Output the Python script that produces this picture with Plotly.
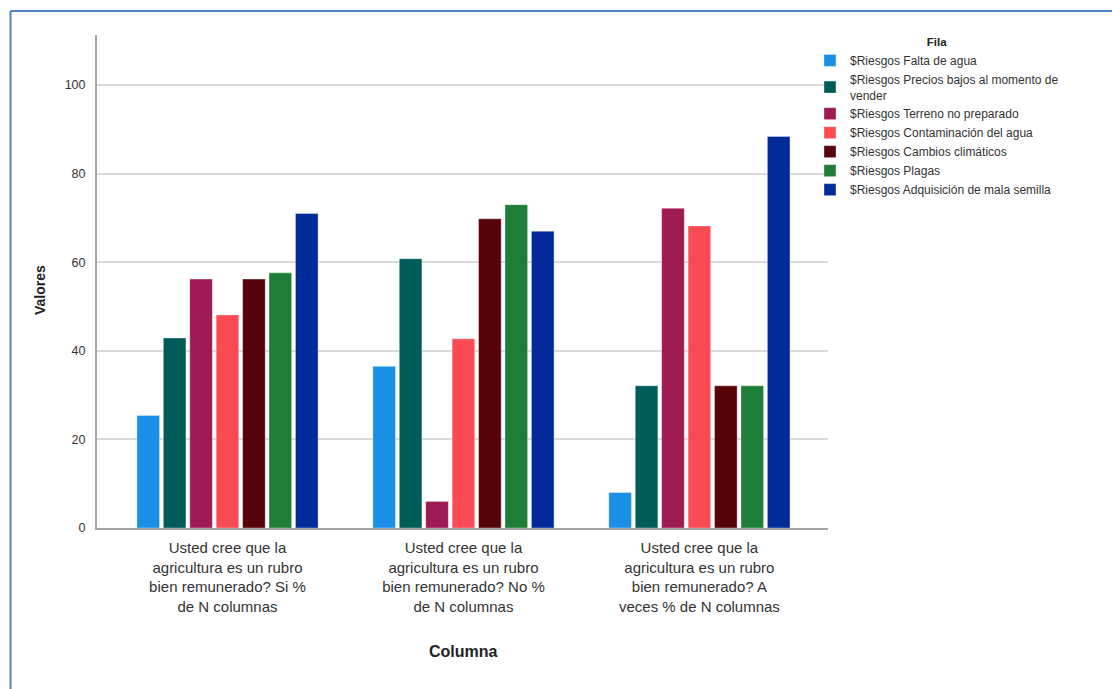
import plotly.graph_objects as go

# Response categories (x axis)
categorias = [
    "Usted cree que la<br>agricultura es un rubro<br>bien remunerado? Si %<br>de N columnas",
    "Usted cree que la<br>agricultura es un rubro<br>bien remunerado? No %<br>de N columnas",
    "Usted cree que la<br>agricultura es un rubro<br>bien remunerado? A<br>veces % de N columnas",
]

# Risk series names (legend)
riesgos = [
    "$Riesgos Falta de agua",
    "$Riesgos Precios bajos al momento de<br>vender",
    "$Riesgos Terreno no preparado",
    "$Riesgos Contaminación del agua",
    "$Riesgos Cambios climáticos",
    "$Riesgos Plagas",
    "$Riesgos Adquisición de mala semilla",
]

# Percentages per risk, one value per category
falta_agua = [25.4, 36.5, 8.0]
precios_bajos = [42.9, 60.8, 32.1]
terreno = [56.2, 6.0, 72.2]
contaminacion = [48.1, 42.7, 68.2]
cambios = [56.2, 69.8, 32.1]
plagas = [57.6, 73.0, 32.1]
mala_semilla = [71.0, 67.0, 88.4]

series = [falta_agua, precios_bajos, terreno, contaminacion, cambios, plagas, mala_semilla]

colores = ["#1a8fe6", "#005c58", "#9e1a52", "#fa4b55", "#570408", "#1e7d37", "#002b99"]

y_ticks = [0, 20, 40, 60, 80, 100]

FONT = "Arial, Liberation Sans, sans-serif"

fig = go.Figure()
for nombre, valores, color in zip(riesgos, series, colores):
    fig.add_trace(go.Bar(
        name=nombre,
        x=categorias,
        y=valores,
        marker=dict(color=color, line=dict(color="rgba(255,255,255,0.6)", width=0.6)),
    ))

W, H = 1112, 689
L, R, T, B = 97, 284, 35, 161
pw, ph = W - L - R, H - T - B


def px_x(px):
    return (px - L) / pw


def px_y(py):
    return (H - B - py) / ph


fig.update_layout(
    width=W, height=H,
    margin=dict(l=L, r=R, t=T, b=B, pad=0),
    paper_bgcolor="white",
    plot_bgcolor="white",
    barmode="group",
    bargap=0.216,
    bargroupgap=0.144,
    font=dict(family=FONT, color="#333333"),
    showlegend=True,
    legend=dict(
        x=px_x(810), y=px_y(31), xanchor="left", yanchor="top",
        title=dict(text="<b>Fila</b>", side="top center", font=dict(size=11.5, color="#222222")),
        font=dict(size=12, color="#333333"),
        tracegroupgap=0,
        itemwidth=30,
        bgcolor="rgba(0,0,0,0)",
    ),
    xaxis=dict(
        type="category",
        range=[-0.553, 2.545],
        showline=True, linecolor="#a6a6a6", linewidth=2,
        showgrid=False,
        ticks="", ticklabelstandoff=5,
        tickfont=dict(size=15, color="#333333"),
    ),
    yaxis=dict(
        range=[0, 111.3],
        tickvals=y_ticks,
        ticktext=[str(v) for v in y_ticks],
        showline=True, linecolor="#a6a6a6", linewidth=2,
        showgrid=True, gridcolor="#d9d9d9", gridwidth=2,
        zeroline=False,
        ticks="", ticklabelstandoff=7,
        tickfont=dict(size=12.5, color="#333333"),
    ),
    annotations=[
        dict(text="<b>Valores</b>", xref="paper", yref="paper",
             x=px_x(40), y=px_y(290), xanchor="center", yanchor="middle",
             showarrow=False, textangle=-90,
             font=dict(size=14, color="#222222")),
        dict(text="<b>Columna</b>", xref="paper", yref="paper",
             x=px_x(463), y=px_y(651), xanchor="center", yanchor="middle",
             showarrow=False,
             font=dict(size=16, color="#222222")),
    ],
    shapes=[
        # page frame: top and left edges
        dict(type="line", xref="paper", yref="paper",
             x0=px_x(10.5), x1=px_x(1112), y0=px_y(11), y1=px_y(11),
             line=dict(color="#4f81bd", width=2)),
        dict(type="line", xref="paper", yref="paper",
             x0=px_x(10.5), x1=px_x(10.5), y0=px_y(11), y1=px_y(689),
             line=dict(color="#4f81bd", width=2)),
    ],
)

fig.write_html("out.html")
